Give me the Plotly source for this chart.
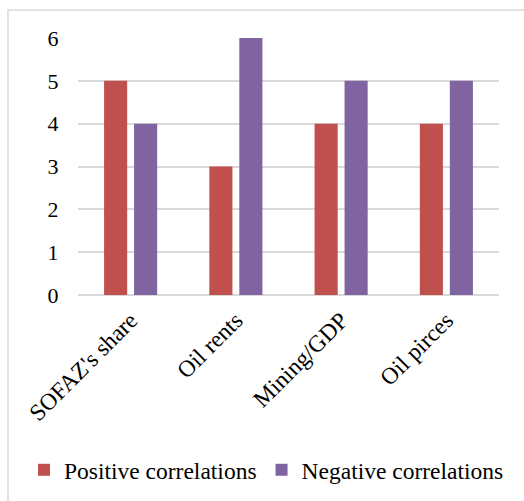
import plotly.graph_objects as go

categories = ["SOFAZ's share", "Oil rents", "Mining/GDP", "Oil pirces"]
positive = [5, 3, 4, 4]
negative = [4, 6, 5, 5]
y_ticks = [0, 1, 2, 3, 4, 5, 6]

W, H = 524, 501
L, R, T, B = 78, 25, 38, 206
PW, PH = W - L - R, H - T - B

fig = go.Figure()
fig.add_trace(go.Bar(x=categories, y=positive, name="Positive correlations",
                     marker=dict(color="#C0504D", line=dict(width=0))))
fig.add_trace(go.Bar(x=categories, y=negative, name="Negative correlations",
                     marker=dict(color="#8064A2", line=dict(width=0))))

font = "Liberation Serif, Times New Roman, serif"
fig.update_layout(
    width=W, height=H,
    margin=dict(l=L, r=R, t=T, b=B, autoexpand=False),
    paper_bgcolor="white", plot_bgcolor="white",
    barmode="group", bargap=0.43, bargroupgap=0.23,
    font=dict(family=font, size=23, color="black"),
    showlegend=True,
    legend=dict(orientation="h", x=(24 - L) / PW, xanchor="left",
                y=-(470 - (H - B)) / PH, yanchor="middle",
                font=dict(size=23.5, family=font, color="black"), itemwidth=30,
                tracegroupgap=0, bgcolor="rgba(0,0,0,0)"),
    xaxis=dict(tickangle=-45, showgrid=False, showline=False, ticks="",
               automargin=False, ticklabelstandoff=6,
               tickfont=dict(size=23.5, family=font, color="black")),
    yaxis=dict(range=[0, 6], tickvals=y_ticks, showgrid=True, gridcolor="#D9D9D9",
               gridwidth=1.5, zeroline=True, zerolinecolor="#D9D9D9", zerolinewidth=1.5,
               showline=False, ticks="outside", ticklen=14, tickcolor="rgba(0,0,0,0)",
               automargin=False, tickfont=dict(size=22, family=font, color="black")),
)

# outer chart border
fig.add_shape(type="rect", xref="paper", yref="paper",
              x0=(8 - L) / PW, x1=(W + 20 - L) / PW,
              y0=-(H + 20 - (H - B)) / PH, y1=(H - 10 - B) / PH,
              line=dict(color="#D9D9D9", width=1.5), fillcolor="rgba(0,0,0,0)", layer="below")

fig.write_html("out.html", config={"displayModeBar": False},
               post_script="document.body.style.margin='0';document.body.style.overflow='hidden';")
